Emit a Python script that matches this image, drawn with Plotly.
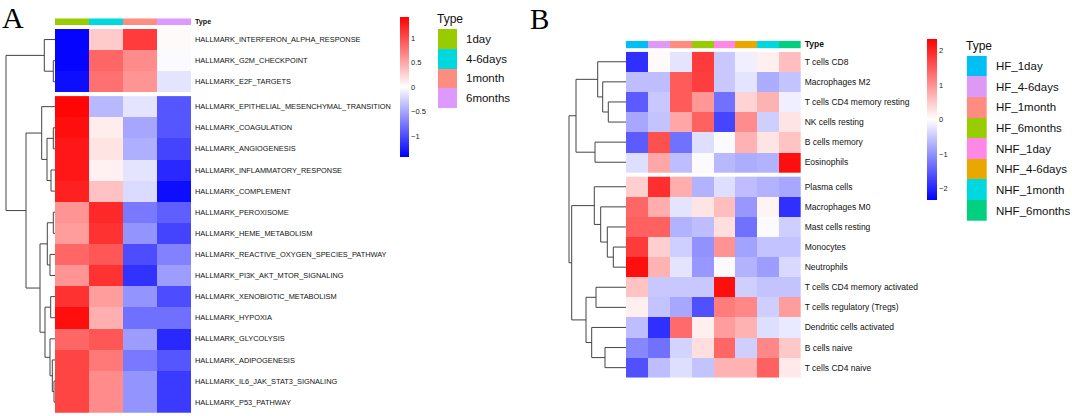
import plotly.graph_objects as go

W, H = 1072, 416

# ---- panel A: hallmark pathways ----
a_cols = ["1day", "4-6days", "1month", "6months"]
a_col_colors = ["#99CC00", "#00D8E0", "#FF8C80", "#DD99FF"]
a_rows = [
    "HALLMARK_INTERFERON_ALPHA_RESPONSE", "HALLMARK_G2M_CHECKPOINT", "HALLMARK_E2F_TARGETS",
    "HALLMARK_EPITHELIAL_MESENCHYMAL_TRANSITION", "HALLMARK_COAGULATION", "HALLMARK_ANGIOGENESIS",
    "HALLMARK_INFLAMMATORY_RESPONSE", "HALLMARK_COMPLEMENT", "HALLMARK_PEROXISOME",
    "HALLMARK_HEME_METABOLISM", "HALLMARK_REACTIVE_OXYGEN_SPECIES_PATHWAY",
    "HALLMARK_PI3K_AKT_MTOR_SIGNALING", "HALLMARK_XENOBIOTIC_METABOLISM", "HALLMARK_HYPOXIA",
    "HALLMARK_GLYCOLYSIS", "HALLMARK_ADIPOGENESIS", "HALLMARK_IL6_JAK_STAT3_SIGNALING",
    "HALLMARK_P53_PATHWAY",
]
a_values = [
    [-1.40, 0.30, 1.10, 0.03],
    [-1.40, 0.85, 0.65, -0.03],
    [-1.35, 0.80, 0.60, -0.15],
    [1.40, -0.40, -0.15, -0.95],
    [1.35, 0.10, -0.50, -0.95],
    [1.30, 0.15, -0.45, -1.05],
    [1.30, 0.08, -0.15, -1.20],
    [1.25, 0.35, -0.20, -1.35],
    [0.60, 1.20, -0.75, -0.90],
    [0.55, 1.15, -0.60, -1.05],
    [0.85, 0.95, -1.00, -0.70],
    [0.60, 1.15, -1.15, -0.55],
    [1.15, 0.55, -0.60, -1.00],
    [1.35, 0.45, -0.80, -0.80],
    [0.85, 0.95, -0.55, -1.20],
    [1.05, 0.75, -0.75, -0.95],
    [1.05, 0.65, -0.60, -1.10],
    [1.05, 0.65, -0.60, -1.10],
]
a_groups = [3, 15]
# row dendrogram: (child, child, height), new nodes numbered after the leaves
a_merges = [
    (1, 2, 1.7), (0, 18, 10.7), (4, 5, 1.7), (6, 7, 4.0), (20, 21, 8.0),
    (3, 22, 13.3), (8, 9, 1.7), (10, 11, 5.0), (24, 25, 7.7), (12, 13, 4.3),
    (16, 17, 1.0), (15, 28, 2.7), (14, 29, 5.0), (27, 30, 10.0), (26, 31, 15.0),
    (23, 32, 29.0), (19, 33, 49.0),
]

# ---- panel B: immune cells ----
b_cols = ["HF_1day", "HF_4-6days", "HF_1month", "HF_6months",
          "NHF_1day", "NHF_4-6days", "NHF_1month", "NHF_6months"]
b_col_colors = ["#00BFF5", "#DD99F5", "#FF8C80", "#99CC00",
                "#FF88E6", "#E8A800", "#00D8E0", "#00D080"]
b_rows = [
    "T cells CD8", "Macrophages M2", "T cells CD4 memory resting", "NK cells resting",
    "B cells memory", "Eosinophils", "Plasma cells", "Macrophages M0", "Mast cells resting",
    "Monocytes", "Neutrophils", "T cells CD4 memory activated", "T cells regulatory (Tregs)",
    "Dendritic cells activated", "B cells naive", "T cells CD4 naive",
]
b_values = [
    [-1.90, 0.05, -0.25, 1.80, -0.50, -0.15, 0.15, 0.60],
    [-0.60, -0.60, 1.50, 1.75, -0.50, -0.25, -0.75, -0.55],
    [-1.50, -0.50, 1.50, 0.95, -1.30, 0.40, 0.70, -0.15],
    [-0.80, -0.55, 0.80, 1.45, -1.70, 1.05, -0.45, 0.25],
    [-1.50, 1.60, -1.30, -0.30, -0.05, 0.70, 0.25, 0.55],
    [-0.30, 0.80, -0.60, -0.05, -0.65, -0.75, -0.70, 2.20],
    [0.45, 1.90, 0.75, -0.70, -0.30, -0.60, -0.70, -0.80],
    [1.40, 0.75, -0.25, 0.25, 0.60, -0.95, 0.10, -1.90],
    [1.45, 1.45, -0.70, -0.60, 0.30, -1.30, -0.05, -0.45],
    [1.80, 0.45, -0.45, -1.00, 1.00, -0.85, -0.55, -0.55],
    [2.20, 0.70, -0.25, -0.95, -0.05, -0.70, -0.90, -0.35],
    [0.55, -0.50, -0.50, -0.50, 2.20, -0.45, -0.55, -0.55],
    [0.15, -0.55, -0.80, -1.60, 1.20, 1.10, -0.45, 0.90],
    [-0.60, -1.90, 1.35, 0.15, 0.90, 0.70, -0.30, -0.20],
    [-1.10, -1.30, -0.40, 0.30, 1.40, -0.45, 1.10, 0.50],
    [-1.60, -0.60, -0.30, -0.55, 0.70, 0.70, 1.45, 0.20],
]
b_groups = [6, 10]
b_merges = [
    (2, 3, 17.7), (1, 16, 23.3), (0, 17, 28.3), (4, 5, 31.0), (18, 19, 50.0),
    (9, 10, 12.7), (8, 21, 18.7), (7, 22, 25.3), (6, 23, 31.7), (11, 12, 30.0),
    (14, 15, 21.0), (13, 26, 34.3), (25, 27, 40.0), (24, 28, 54.3), (20, 29, 57.0),
]

BWR = [[0, "#0000FF"], [0.5, "#FFFFFF"], [1, "#FF0000"]]
FONT = "Liberation Sans, Arial, sans-serif"
SERIF = "Liberation Serif, Times New Roman, serif"


def fx(p):
    return p / W


def fy(p):
    return 1 - p / H


def blank(**kw):
    d = dict(showgrid=False, zeroline=False, showticklabels=False, ticks="", showline=False,
             fixedrange=True, automargin=False)
    d.update(kw)
    return d


def discrete(colors):
    n = len(colors)
    return [[i / (n - 1), c] for i, c in enumerate(colors)]


def row_tops(groups, gap):
    tops = []
    for g, size in enumerate(groups):
        start = sum(groups[:g])
        tops += [start + i + g * gap for i in range(size)]
    return tops


def dendro(merges, leaf_y):
    pos = {i: (y, 0.0) for i, y in enumerate(leaf_y)}
    n = len(leaf_y)
    xs, ys = [], []
    for k, (a, b, h) in enumerate(merges):
        ya, ha = pos[a]
        yb, hb = pos[b]
        xs += [ha, h, h, hb, None]
        ys += [ya, ya, yb, yb, None]
        pos[n + k] = ((ya + yb) / 2, h)
    return xs, ys


fig = go.Figure()


def add_panel(k, rows, cols, col_colors, values, groups, gap, merges, dmax,
              dend_px, heat_px, heat_py, bar_py, leg_px, leg_py, cax, row_font, type_font):
    ax = [str(k + i) for i in range(4)]
    tops = row_tops(groups, gap)
    centers = [t + 0.5 for t in tops]
    total = tops[-1] + 1
    yrange = [total, 0]

    # dendrogram
    xs, ys = dendro(merges, centers)
    fig.add_trace(go.Scatter(x=xs, y=ys, mode="lines", line=dict(color="#444444", width=1),
                             hoverinfo="skip", showlegend=False,
                             xaxis="x" + ax[0], yaxis="y" + ax[0]))
    # heatmap, one trace per row group
    start = 0
    for size in groups:
        idx = list(range(start, start + size))
        edges = [tops[i] for i in idx] + [tops[idx[-1]] + 1]
        fig.add_trace(go.Heatmap(z=[values[i] for i in idx], x=list(range(len(cols))), y=edges,
                                 coloraxis=cax, xaxis="x" + ax[1], yaxis="y" + ax[1],
                                 hovertemplate="%{z}<extra></extra>"))
        start += size
    # column annotation bar
    fig.add_trace(go.Heatmap(z=[list(range(len(cols)))], x=list(range(len(cols))), y=[0],
                             colorscale=discrete(col_colors), zmin=0, zmax=len(cols) - 1,
                             showscale=False, hoverinfo="skip",
                             xaxis="x" + ax[2], yaxis="y" + ax[2]))
    # legend swatches
    fig.add_trace(go.Heatmap(z=[[i] for i in range(len(cols))], x=[0], y=list(range(len(cols))),
                             colorscale=discrete(col_colors), zmin=0, zmax=len(cols) - 1,
                             showscale=False, hoverinfo="skip",
                             xaxis="x" + ax[3], yaxis="y" + ax[3]))

    ncol = len(cols)
    lay = {
        "xaxis" + ax[0]: blank(domain=[fx(dend_px[0]), fx(dend_px[1])], range=[dmax, 0]),
        "yaxis" + ax[0]: blank(domain=[fy(heat_py[1]), fy(heat_py[0])], range=yrange,
                               anchor="x" + ax[0]),
        "xaxis" + ax[1]: blank(domain=[fx(heat_px[0]), fx(heat_px[1])], range=[-0.5, ncol - 0.5],
                               anchor="y" + ax[1]),
        "yaxis" + ax[1]: blank(domain=[fy(heat_py[1]), fy(heat_py[0])], range=yrange,
                               anchor="x" + ax[1], side="right", showticklabels=True,
                               tickvals=centers, ticktext=rows, ticklabelstandoff=3,
                               tickfont=dict(family=FONT, size=row_font, color="#111111")),
        "xaxis" + ax[2]: blank(domain=[fx(heat_px[0]), fx(heat_px[1])], range=[-0.5, ncol - 0.5],
                               anchor="y" + ax[2]),
        "yaxis" + ax[2]: blank(domain=[fy(bar_py[1]), fy(bar_py[0])], range=[-0.5, 0.5],
                               anchor="x" + ax[2], side="right", showticklabels=True,
                               tickvals=[0], ticktext=["<b>Type</b>"], ticklabelstandoff=3,
                               tickfont=dict(family=FONT, size=type_font, color="#111111")),
        "xaxis" + ax[3]: blank(domain=[fx(leg_px[0]), fx(leg_px[1])], range=[-0.5, 0.5],
                               anchor="y" + ax[3]),
        "yaxis" + ax[3]: blank(domain=[fy(leg_py[1]), fy(leg_py[0])],
                               range=[ncol - 0.5, -0.5], anchor="x" + ax[3], side="right",
                               showticklabels=True, tickvals=list(range(ncol)), ticktext=cols,
                               ticklabelstandoff=8,
                               tickfont=dict(family=FONT, size=11.5, color="#111111")),
    }
    fig.update_layout(**lay)


add_panel(1, a_rows, a_cols, a_col_colors, a_values, a_groups, 0.18, a_merges, 50,
          (5, 55), (55, 191), (29, 412.7), (18.3, 25), (438, 457), (29, 108),
          "coloraxis", 7.4, 7.2)
add_panel(5, b_rows, b_cols, b_col_colors, b_values, b_groups, 0.22, b_merges, 58,
          (568, 626), (626, 800.7), (51.7, 377.7), (40.7, 48.3), (966.7, 987), (55.7, 221),
          "coloraxis2", 8.5, 8.5)

fig.update_layout(
    template="none",
    width=W, height=H, margin=dict(l=0, r=0, t=0, b=0, pad=0),
    paper_bgcolor="white", plot_bgcolor="white", showlegend=False,
    font=dict(family=FONT, color="#111111"),
    coloraxis=dict(colorscale=BWR, cmin=-1.43, cmax=1.43,
                   colorbar=dict(x=fx(400), xanchor="left", y=fy(87), yanchor="middle",
                                 len=140, lenmode="pixels", thickness=9, outlinewidth=0,
                                 xpad=0, ypad=0, tickvals=[-1, -0.5, 0, 0.5, 1], ticks="",
                                 tickfont=dict(family=FONT, size=7.5, color="#222222"))),
    coloraxis2=dict(colorscale=BWR, cmin=-2.33, cmax=2.33,
                    colorbar=dict(x=fx(927), xanchor="left", y=fy(119.5), yanchor="middle",
                                  len=161, lenmode="pixels", thickness=10, outlinewidth=0,
                                  xpad=0, ypad=0, tickvals=[-2, -1, 0, 1, 2], ticks="",
                                  tickfont=dict(family=FONT, size=7.5, color="#222222"))),
    annotations=[
        dict(text="A", x=fx(1), y=1, xref="paper", yref="paper", xanchor="left",
             yanchor="top", showarrow=False, borderpad=0,
             font=dict(family=SERIF, size=30, color="black")),
        dict(text="B", x=fx(529), y=fy(1.5), xref="paper", yref="paper", xanchor="left",
             yanchor="top", showarrow=False, borderpad=0,
             font=dict(family=SERIF, size=29, color="black")),
        dict(text="Type", x=fx(435), y=fy(19), xref="paper", yref="paper", xanchor="left",
             yanchor="middle", showarrow=False, font=dict(family=FONT, size=12, color="#111111")),
        dict(text="Type", x=fx(964), y=fy(45.5), xref="paper", yref="paper", xanchor="left",
             yanchor="middle", showarrow=False, font=dict(family=FONT, size=12, color="#111111")),
    ],
)

# the page's default body margin would shift the fixed-size figure
fig.write_html("out.html", config={"displayModeBar": False},
               post_script="document.body.style.margin = '0';")
